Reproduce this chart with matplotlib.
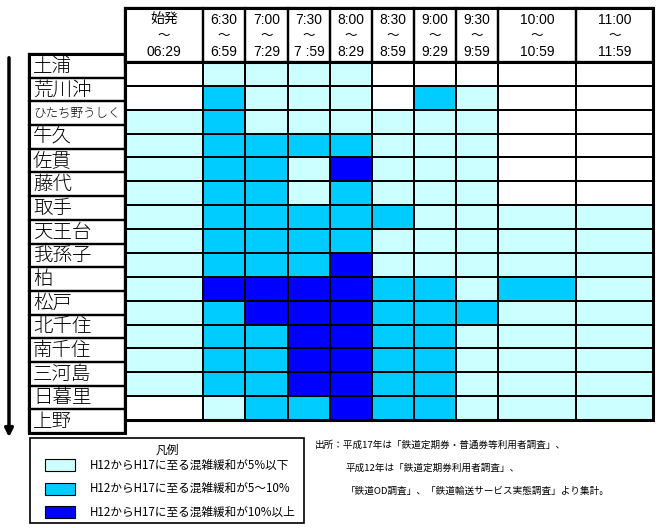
import numpy as np
import matplotlib.pyplot as plt
from matplotlib.colors import ListedColormap, BoundaryNorm
from matplotlib.patches import Rectangle

plt.rcParams['font.family'] = ['Noto Sans CJK JP', 'DejaVu Sans']

# stations from 土浦 down to 上野 (grid rows are the sections between them)
stations = ['土浦', '荒川沖', 'ひたち野うしく', '牛久', '佐貫', '藤代', '取手', '天王台',
            '我孫子', '柏', '松戸', '北千住', '南千住', '三河島', '日暮里', '上野']
slot_start = ['始発', '6:30', '7:00', '7:30', '8:00', '8:30', '9:00', '9:30', '10:00', '11:00']
slot_end = ['06:29', '6:59', '7:29', '7 :59', '8:29', '8:59', '9:29', '9:59', '10:59', '11:59']

# 0: no relief, 1: <=5%, 2: 5-10%, 3: >=10%
relief = [
    [0, 1, 1, 1, 1, 0, 0, 0, 0, 0],
    [0, 2, 1, 1, 1, 0, 2, 1, 0, 0],
    [1, 2, 1, 1, 1, 1, 1, 1, 0, 0],
    [1, 2, 2, 2, 2, 1, 1, 1, 0, 0],
    [1, 2, 2, 1, 3, 1, 1, 1, 0, 0],
    [1, 2, 2, 1, 2, 1, 1, 1, 0, 0],
    [1, 2, 2, 2, 2, 2, 1, 1, 1, 1],
    [1, 2, 2, 2, 2, 1, 1, 1, 1, 1],
    [1, 2, 2, 2, 3, 1, 1, 1, 1, 1],
    [1, 3, 3, 3, 3, 2, 2, 1, 2, 1],
    [1, 2, 3, 3, 3, 2, 2, 2, 1, 1],
    [1, 2, 2, 3, 3, 2, 2, 1, 1, 1],
    [1, 2, 2, 3, 3, 2, 2, 1, 1, 1],
    [1, 2, 2, 3, 3, 2, 2, 1, 1, 1],
    [0, 1, 2, 2, 3, 2, 2, 1, 1, 1],
]

legend_labels = ['H12からH17に至る混雑緩和が5%以下',
                 'H12からH17に至る混雑緩和が5～10%',
                 'H12からH17に至る混雑緩和が10%以上']
source_lines = ['出所：平成17年は「鉄道定期券・普通券等利用者調査」、',
                '平成12年は「鉄道定期券利用者調査」、',
                '「鉄道OD調査」、「鉄道輸送サービス実態調査」より集計。']

colors = ['#FFFFFF', '#CCFFFF', '#00CCFF', '#0000FF']

# layout (pixels)
col_w = [78, 42, 43, 42, 42, 42, 42, 42, 78, 77]
grid_left, head_top, grid_top, grid_bottom = 125, 8, 62, 420
lab_left, lab_top, lab_bottom = 29, 54, 433

fig = plt.figure(figsize=(6.59, 5.28), dpi=100)
ax = fig.add_axes([0, 0, 1, 1])
ax.set_xlim(0, 659)
ax.set_ylim(528, 0)
ax.axis('off')

x_edges = grid_left + np.concatenate([[0], np.cumsum(col_w)])
y_edges = np.linspace(grid_top, grid_bottom, len(relief) + 1)

cmap = ListedColormap(colors)
norm = BoundaryNorm([-0.5, 0.5, 1.5, 2.5, 3.5], cmap.N)
ax.pcolormesh(x_edges, y_edges, np.array(relief), cmap=cmap, norm=norm,
              edgecolors='black', linewidth=1.3)

# header
for i in range(len(slot_start)):
    x0, x1 = x_edges[i], x_edges[i + 1]
    ax.add_patch(Rectangle((x0, head_top), x1 - x0, grid_top - head_top,
                           fill=False, ec='black', lw=1.6))
    xc = (x0 + x1) / 2
    ax.text(xc, 20, slot_start[i], ha='center', va='center', fontsize=10,
            family=['Liberation Sans', 'Noto Sans CJK JP'])
    ax.text(xc, 35, '～', ha='center', va='center', fontsize=9)
    ax.text(xc, 52, slot_end[i], ha='center', va='center', fontsize=10,
            family=['Liberation Sans', 'Noto Sans CJK JP'])

ax.add_patch(Rectangle((grid_left, head_top), x_edges[-1] - grid_left,
                       grid_bottom - head_top, fill=False, ec='black', lw=2.2))
ax.plot([grid_left, x_edges[-1]], [grid_top, grid_top], color='black', lw=2.2)

# station labels
lab_edges = np.linspace(lab_top, lab_bottom, len(stations) + 1)
for i, name in enumerate(stations):
    y0, y1 = lab_edges[i], lab_edges[i + 1]
    ax.add_patch(Rectangle((lab_left, y0), grid_left - lab_left, y1 - y0,
                           fill=False, ec='black', lw=1.6))
    fs = 9 if len(name) > 4 else 14
    ax.text(lab_left + 4, (y0 + y1) / 2 + 0.5, name, ha='left', va='center', fontsize=fs,
            fontweight='light')
ax.add_patch(Rectangle((lab_left, lab_top), grid_left - lab_left, lab_bottom - lab_top,
                       fill=False, ec='black', lw=2.2))

# direction arrow
ax.annotate('', xy=(9, 440), xytext=(9, 55),
            arrowprops=dict(arrowstyle='-|>', lw=2.5, color='black', mutation_scale=12))

# legend
ax.add_patch(Rectangle((30, 438), 274, 85, fill=False, ec='black', lw=1.2))
ax.text(167, 450, '凡例', ha='center', va='center', fontsize=8.5)
for i, lab in enumerate(legend_labels):
    yc = 465 + i * 23.5
    ax.add_patch(Rectangle((45, yc - 6), 30, 12, fc=colors[i + 1], ec='black', lw=0.8))
    ax.text(90, yc, lab, ha='left', va='center', fontsize=8.4)

# source note
ax.text(315, 445, source_lines[0], ha='left', va='center', fontsize=6.9)
ax.text(346, 468, source_lines[1], ha='left', va='center', fontsize=6.9)
ax.text(346, 491, source_lines[2], ha='left', va='center', fontsize=6.9)

fig.savefig('out.png', dpi=100)
